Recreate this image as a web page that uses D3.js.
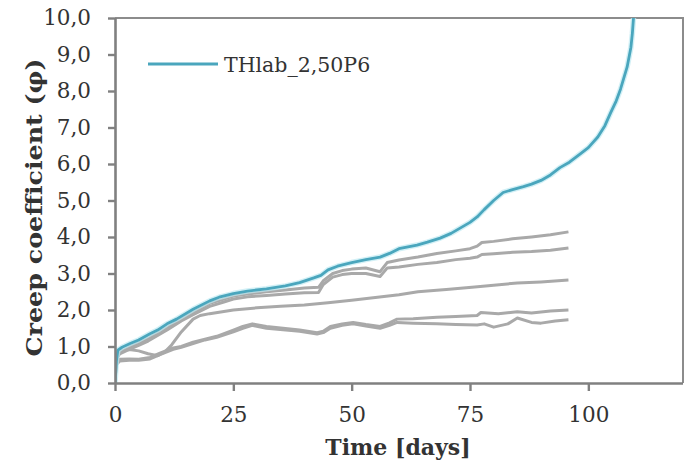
<!DOCTYPE html>
<html>
<head>
<meta charset="utf-8">
<script src="https://cdn.jsdelivr.net/npm/d3@7"></script>
<style>
  html, body { margin: 0; padding: 0; background: #fff; }
  svg { display: block; }
  text { font-family: "DejaVu Serif", "Liberation Serif", serif; fill: #333; }
</style>
</head>
<body>
<svg id="chart" width="690" height="464"></svg>
<script>
// Creep coefficient vs. time: one highlighted specimen and five reference specimens
const seriesName = "THlab_2,50P6";
const xTicks = [0, 25, 50, 75, 100];
const yTicks = [0, 1, 2, 3, 4, 5, 6, 7, 8, 9, 10];

// [day, creep coefficient]
const mainSeries = [[0,0],[0.3,0.6],[0.6,0.9],[1.5,0.98],[3.2,1.08],[5,1.18],[7.4,1.35],[9,1.45],[11,1.62],[13,1.75],[16.5,2.02],[20,2.25],[22,2.35],[25,2.45],[28,2.52],[32,2.58],[36,2.66],[39,2.75],[42,2.88],[43.5,2.95],[45,3.1],[47,3.2],[50,3.3],[53,3.38],[56,3.45],[58,3.55],[60,3.68],[63.8,3.78],[66,3.86],[68.7,3.97],[71,4.1],[73,4.25],[75,4.4],[76.5,4.55],[78,4.75],[80,5.0],[82,5.22],[84,5.3],[86.3,5.38],[88,5.45],[90,5.55],[92,5.7],[94,5.9],[96,6.05],[98.3,6.28],[100,6.45],[102,6.74],[103.5,7.05],[104.7,7.4],[105.8,7.7],[106.8,8.05],[108.2,8.66],[109,9.2],[109.3,9.58],[109.6,10.1]];

const ref1 = [[0,0],[0.3,0.7],[1,0.85],[3,0.98],[5,1.1],[7,1.22],[9,1.38],[11,1.52],[14,1.75],[16.5,1.93],[20,2.18],[23,2.3],[25,2.38],[28,2.44],[32,2.5],[36,2.55],[40,2.6],[43,2.62],[44,2.8],[46,3.0],[48,3.08],[50,3.12],[53,3.15],[56,3.05],[57.5,3.3],[60,3.37],[64,3.45],[68,3.55],[72,3.62],[75,3.68],[76.5,3.75],[77.5,3.85],[80,3.88],[84,3.95],[88,4.0],[92,4.06],[95.8,4.14]];
const ref2 = [[0,0],[0.3,0.65],[1,0.8],[3,0.92],[5,1.03],[7,1.15],[9,1.3],[11,1.45],[14,1.7],[16.5,1.87],[20,2.1],[23,2.22],[25,2.3],[28,2.36],[32,2.4],[36,2.44],[40,2.47],[43,2.48],[44,2.7],[46,2.9],[48,2.97],[50,3.0],[53,3.0],[56,2.92],[57.5,3.15],[60,3.18],[64,3.25],[68,3.3],[72,3.38],[75,3.42],[76.5,3.45],[77.5,3.52],[80,3.54],[84,3.58],[88,3.6],[92,3.64],[95.8,3.7]];
const ref3 = [[0,0],[0.3,0.7],[1,0.88],[3,0.92],[5,0.88],[7,0.8],[9,0.75],[10.5,0.85],[12,1.05],[14,1.4],[16.5,1.75],[18,1.85],[20,1.9],[25,2.0],[30,2.06],[35,2.1],[40,2.14],[45,2.2],[50,2.27],[55,2.34],[60,2.42],[64,2.5],[70,2.56],[76,2.63],[80,2.68],[85,2.74],[90,2.77],[95.8,2.82]];
const ref4 = [[0,0],[0.3,0.55],[1,0.65],[3,0.66],[5,0.65],[7.4,0.7],[9.5,0.82],[12.3,0.96],[14,1.0],[16.5,1.12],[19,1.2],[21.5,1.28],[25,1.45],[27,1.55],[29,1.62],[32,1.55],[35.5,1.5],[39,1.45],[42.7,1.38],[44,1.42],[45.5,1.55],[48,1.62],[50.3,1.66],[53,1.6],[56,1.55],[58,1.65],[59.6,1.75],[63,1.76],[68,1.8],[72,1.82],[76.5,1.85],[77.3,1.93],[81,1.9],[85,1.95],[88,1.92],[92,1.97],[95.8,2.0]];
const ref5 = [[0,0],[0.3,0.5],[1,0.6],[3,0.62],[5,0.62],[7.4,0.66],[9.5,0.78],[12.3,0.92],[14,0.98],[16.5,1.08],[19,1.18],[21.5,1.25],[25,1.4],[27,1.5],[29,1.58],[32,1.5],[35.5,1.46],[39,1.42],[42.7,1.34],[44,1.38],[45.5,1.5],[48,1.58],[50.3,1.62],[53,1.56],[56,1.5],[58,1.58],[59.6,1.66],[63,1.64],[68,1.62],[72,1.6],[76.5,1.59],[78,1.62],[80,1.53],[83,1.62],[85,1.78],[88,1.66],[90,1.64],[93,1.7],[95.8,1.73]];

const referenceSeries = [ref1, ref2, ref3, ref4, ref5];

const svg = d3.select("#chart");
const margin = { left: 115, top: 18, right: 7, bottom: 81 };
const W = 690, H = 464;
const plotW = W - margin.left - margin.right;
const plotH = H - margin.top - margin.bottom;

const x = d3.scaleLinear().domain([0, 120]).range([margin.left, margin.left + plotW]);
const y = d3.scaleLinear().domain([0, 10]).range([margin.top + plotH, margin.top]);

const locale = d3.formatLocale({ decimal: ",", thousands: ".", grouping: [3], currency: ["", " €"] });
const fmtY = locale.format(".1f");

svg.append("defs").append("clipPath").attr("id", "plotClip")
  .append("rect")
  .attr("x", margin.left).attr("y", margin.top)
  .attr("width", plotW).attr("height", plotH);

// frame (top and right sides)
svg.append("path")
  .attr("d", `M${x(0)},${y(10)}H${x(120)}V${y(0)}`)
  .attr("fill", "none").attr("stroke", "#8c8c8c").attr("stroke-width", 2);

const line = d3.line().x(d => x(d[0])).y(d => y(d[1]));

const plot = svg.append("g").attr("clip-path", "url(#plotClip)");

plot.selectAll("path.ref")
  .data(referenceSeries)
  .join("path")
  .attr("class", "ref")
  .attr("d", line)
  .attr("fill", "none")
  .attr("stroke", "#a9a9a9")
  .attr("stroke-width", 3)
  .attr("stroke-linejoin", "round");

// soft halo under the highlighted series
plot.append("path")
  .datum(mainSeries)
  .attr("d", line)
  .attr("fill", "none")
  .attr("stroke", "#bfe9f2")
  .attr("stroke-width", 5.5)
  .attr("stroke-linejoin", "round")
  .attr("opacity", 0.7);

plot.append("path")
  .datum(mainSeries)
  .attr("d", line)
  .attr("fill", "none")
  .attr("stroke", "#4aa6bd")
  .attr("stroke-width", 2.8)
  .attr("stroke-linejoin", "round");

// axes
const xAxis = svg.append("g")
  .attr("transform", `translate(0,${y(0)})`)
  .call(d3.axisBottom(x).tickValues(xTicks).tickSize(8).tickPadding(16).tickFormat(d3.format("d")));
const yAxis = svg.append("g")
  .attr("transform", `translate(${x(0)},0)`)
  .call(d3.axisLeft(y).tickValues(yTicks).tickSize(7).tickPadding(17).tickFormat(fmtY));

[xAxis, yAxis].forEach(g => {
  g.select(".domain").attr("stroke", "#808080").attr("stroke-width", 2.6);
  g.selectAll(".tick line").attr("stroke", "#808080").attr("stroke-width", 2.4);
  g.selectAll(".tick text")
    .attr("fill", "#3a3a3a")
    .style("font-family", "'DejaVu Serif', serif")
    .style("font-size", "21.5px");
});
xAxis.select(".domain").attr("d", `M${x(0)},0.5H${x(120)}`);
yAxis.select(".domain").attr("d", `M0.5,${y(0)}V${y(10)}`);

// axis titles
svg.append("text")
  .attr("x", (x(0) + x(120)) / 2 - 1)
  .attr("y", 455)
  .attr("text-anchor", "middle")
  .style("font-size", "22px")
  .style("font-weight", "bold")
  .attr("fill", "#222")
  .text("Time [days]");

svg.append("text")
  .attr("transform", `translate(42,${(y(0) + y(10)) / 2 + 7}) rotate(-90)`)
  .attr("text-anchor", "middle")
  .style("font-size", "22px")
  .style("font-weight", "bold")
  .attr("textLength", 298)
  .attr("lengthAdjust", "spacingAndGlyphs")
  .attr("fill", "#222")
  .text("Creep coefficient (φ)");

// legend
const legend = svg.append("g");
legend.append("line")
  .attr("x1", 148).attr("x2", 218).attr("y1", 64).attr("y2", 64)
  .attr("stroke", "#4aa6bd").attr("stroke-width", 3);
legend.append("text")
  .attr("x", 224).attr("y", 72)
  .style("font-size", "20.5px")
  .attr("fill", "#333")
  .text(seriesName);
</script>
</body>
</html>
